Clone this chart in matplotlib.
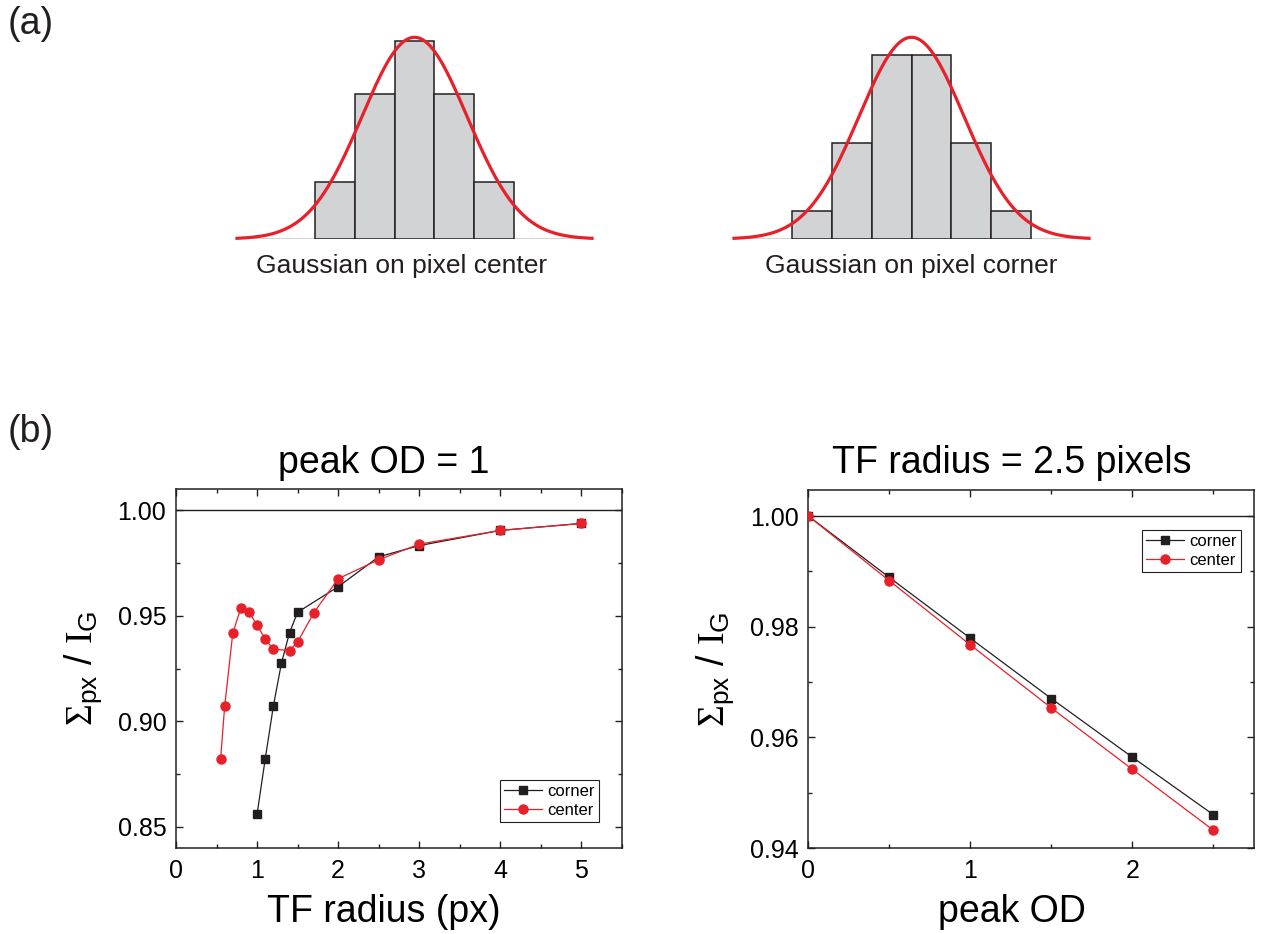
import matplotlib
matplotlib.use('Agg')
import matplotlib.pyplot as plt
import numpy as np
from matplotlib.ticker import MultipleLocator

plt.rcParams['font.family'] = ['Liberation Sans', 'DejaVu Sans']
plt.rcParams['mathtext.fontset'] = 'custom'
plt.rcParams['mathtext.rm'] = 'Liberation Serif'
plt.rcParams['mathtext.sf'] = 'Liberation Sans'
plt.rcParams['mathtext.it'] = 'Liberation Serif:italic'

# (a) pixel histograms of a gaussian (heights relative to gaussian peak)
center_pos = [-2, -1, 0, 1, 2]
center_heights = [0.281, 0.72, 0.982, 0.72, 0.281]
corner_pos = [-2.5, -1.5, -0.5, 0.5, 1.5, 2.5]
corner_heights = [0.14, 0.474, 0.914, 0.914, 0.474, 0.14]
gauss_sigma = 1.32  # in pixel widths

# (b) left: peak OD = 1
r_corner = [1.0, 1.1, 1.2, 1.3, 1.4, 1.5, 2.0, 2.5, 3.0, 4.0, 5.0]
v_corner = [0.856, 0.882, 0.907, 0.9275, 0.942, 0.9517, 0.9638, 0.978, 0.9833, 0.9905, 0.9938]
r_center = [0.55, 0.6, 0.7, 0.8, 0.9, 1.0, 1.1, 1.2, 1.4, 1.5, 1.7, 2.0, 2.5, 3.0, 4.0, 5.0]
v_center = [0.882, 0.907, 0.9417, 0.9537, 0.9518, 0.9455, 0.939, 0.9342, 0.9335, 0.9376,
            0.9515, 0.9676, 0.9766, 0.984, 0.9905, 0.9938]

# (b) right: TF radius = 2.5 pixels
od = [0, 0.5, 1.0, 1.5, 2.0, 2.5]
od_corner = [1.0, 0.9889, 0.9779, 0.967, 0.9564, 0.946]
od_center = [1.0, 0.9883, 0.9767, 0.9653, 0.9542, 0.9432]

RED = '#e8202a'
BLACK = '#231f20'
BAR = '#d1d3d4'

fig = plt.figure(figsize=(12.61, 9.34), dpi=100)
W, H = 1261, 934


def px_axes(x0, y0, x1, y1):
    return fig.add_axes([x0 / W, 1 - y1 / H, (x1 - x0) / W, (y1 - y0) / H])


# ---- top panels ----
xc = np.linspace(-4.45, 4.45, 400)
yc = np.exp(-xc**2 / (2 * gauss_sigma**2))
for (x0, pos, hts, label, tx) in [(237, center_pos, center_heights, 'Gaussian on pixel center', 402),
                                  (734, corner_pos, corner_heights, 'Gaussian on pixel corner', 911)]:
    ax = px_axes(x0, 239 - 201.7, x0 + 355, 239)
    ax.bar(pos, hts, width=1.0, color=BAR, edgecolor=BLACK, linewidth=1.1, zorder=2)
    ax.plot([-4.45, 4.45], [0, 0], color=BLACK, lw=1.0, zorder=1)
    ax.plot(xc, yc, color=RED, lw=2.3, zorder=3, clip_on=False)
    ax.set_xlim(-4.45, 4.45)
    ax.set_ylim(0, 1)
    ax.axis('off')
    fig.text(tx / W, 1 - 273 / H, label, fontsize=19, ha='center', va='baseline', color=BLACK)

fig.text(8 / W, 1 - 6 / H, '(a)', fontsize=27, va='top', ha='left', color=BLACK)
fig.text(8 / W, 1 - 414 / H, '(b)', fontsize=27, va='top', ha='left', color=BLACK)


def style(ax):
    ax.tick_params(which='both', direction='in', top=True, right=True, labelsize=18, color=BLACK)
    ax.tick_params(which='major', length=5, width=1.0)
    ax.tick_params(which='minor', length=3, width=1.0)
    ax.tick_params(axis='y', pad=7)
    ax.tick_params(axis='x', pad=8)
    for s in ax.spines.values():
        s.set_linewidth(1.1)
        s.set_color(BLACK)
    ax.axhline(1.0, color=BLACK, lw=1.0, zorder=1)


ylab = r'$\Sigma_{\mathsf{px}}$ / $\mathrm{I}_{\mathsf{G}}$'

# ---- bottom left ----
ax1 = px_axes(176, 489.3, 622, 847.7)
style(ax1)
ax1.plot(r_corner, v_corner, color=BLACK, lw=0.9, marker='s', ms=5.5, zorder=3, label='corner')
ax1.plot(r_center, v_center, color=RED, lw=0.9, marker='o', ms=6.5, zorder=4, label='center')
ax1.set_xlim(0, 5.5)
ax1.set_ylim(0.84, 1.01)
ax1.xaxis.set_major_locator(MultipleLocator(1))
ax1.xaxis.set_minor_locator(MultipleLocator(0.5))
ax1.yaxis.set_major_locator(MultipleLocator(0.05))
ax1.yaxis.set_minor_locator(MultipleLocator(0.025))
ax1.yaxis.set_major_formatter(matplotlib.ticker.FormatStrFormatter('%.2f'))
ax1.set_title('peak OD = 1', fontsize=27, pad=12, x=0.466)
ax1.set_xlabel('TF radius (px)', fontsize=27, labelpad=8)
ax1.xaxis.label.set_x(0.466)
ax1.set_ylabel(ylab, fontsize=27, labelpad=10)
ax1.legend(loc='lower right', bbox_to_anchor=(0.948, 0.0725), borderaxespad=0, fontsize=12,
           fancybox=False, edgecolor=BLACK, framealpha=1, handlelength=2.3, handletextpad=0.3,
           labelspacing=0.2, borderpad=0.25).get_frame().set_linewidth(0.8)

# ---- bottom right ----
ax2 = px_axes(808.3, 490, 1254, 848)
style(ax2)
ax2.plot(od, od_corner, color=BLACK, lw=0.9, marker='s', ms=5.5, zorder=3, label='corner')
ax2.plot(od, od_center, color=RED, lw=0.9, marker='o', ms=6.5, zorder=4, label='center')
ax2.set_xlim(0, 2.75)
ax2.set_ylim(0.94, 1.0047)
ax2.xaxis.set_major_locator(MultipleLocator(1))
ax2.xaxis.set_minor_locator(MultipleLocator(0.5))
ax2.yaxis.set_major_locator(MultipleLocator(0.02))
ax2.yaxis.set_minor_locator(MultipleLocator(0.01))
ax2.yaxis.set_major_formatter(matplotlib.ticker.FormatStrFormatter('%.2f'))
ax2.set_title('TF radius = 2.5 pixels', fontsize=27, pad=12, x=0.457)
ax2.set_xlabel('peak OD', fontsize=27, labelpad=8)
ax2.xaxis.label.set_x(0.457)
ax2.set_ylabel(ylab, fontsize=27, labelpad=10)
ax2.legend(loc='upper right', bbox_to_anchor=(0.971, 0.888), borderaxespad=0, fontsize=12,
           fancybox=False, edgecolor=BLACK, framealpha=1, handlelength=2.3, handletextpad=0.3,
           labelspacing=0.2, borderpad=0.25).get_frame().set_linewidth(0.8)

fig.savefig('out.png', dpi=100)
